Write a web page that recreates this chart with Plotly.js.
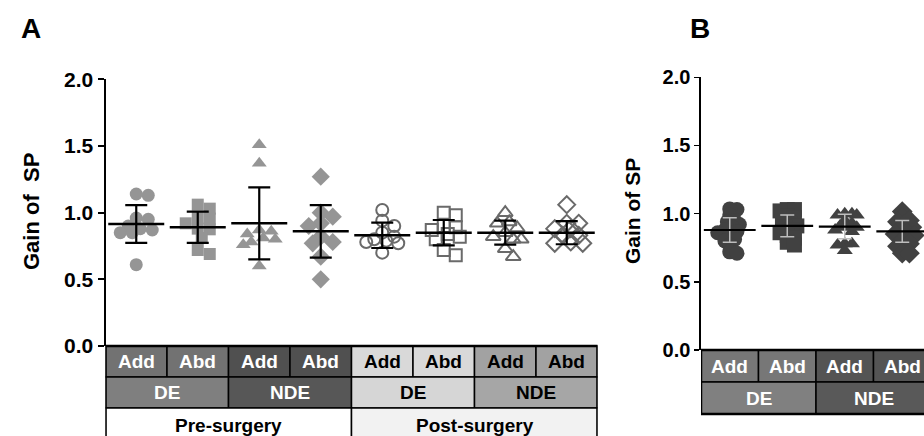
<!DOCTYPE html>
<html><head><meta charset="utf-8">
<script src="https://cdn.plot.ly/plotly-3.0.1.min.js"></script>
<style>html,body{margin:0;padding:0;background:#fff}#chart{width:924px;height:436px}</style>
</head><body><div id="chart"></div>
<script>
// ---------- Panel A data ----------
const muscleLabelsA = ['Add','Abd','Add','Abd','Add','Abd','Add','Abd'];
const sideLabelsA = ['DE','NDE','DE','NDE'];
const phaseLabelsA = ['Pre-surgery','Post-surgery'];
const preDEAdd  = [1.13,1.14,0.96,0.95,0.90,0.88,0.87,0.85,0.85,0.61];
const preDEAbd  = [1.06,1.03,0.96,0.955,0.92,0.88,0.875,0.81,0.72,0.69];
const preNDEAdd = [1.51,1.37,0.87,0.86,0.84,0.81,0.80,0.78,0.76,0.60];
const preNDEAbd = [1.27,1.00,0.97,0.92,0.90,0.82,0.78,0.77,0.67,0.50];
const postDEAdd = [1.02,0.94,0.90,0.85,0.82,0.80,0.79,0.78,0.77,0.70];
const postDEAbd = [1.00,0.98,0.90,0.89,0.87,0.84,0.82,0.80,0.72,0.68];
const postNDEAdd= [1.00,0.93,0.92,0.885,0.85,0.82,0.80,0.80,0.73,0.67];
const postNDEAbd= [1.06,0.92,0.92,0.88,0.88,0.83,0.83,0.78,0.77,0.77];
const meanA = [0.915,0.89,0.92,0.86,0.83,0.85,0.85,0.85];
const sdA   = [0.142,0.117,0.27,0.197,0.095,0.095,0.09,0.087];

// ---------- Panel B data ----------
const muscleLabelsB = ['Add','Abd','Add','Abd'];
const sideLabelsB = ['DE','NDE'];
const bDEAdd  = [1.03,1.035,0.99,0.95,0.94,0.92,0.90,0.88,0.87,0.86,0.84,0.81,0.80,0.77,0.72,0.71];
const bDEAbd  = [1.03,1.03,1.02,0.98,0.97,0.95,0.93,0.91,0.90,0.88,0.86,0.84,0.82,0.79,0.77];
const bNDEAdd = [1.00,0.99,0.99,1.00,0.95,0.93,0.91,0.90,0.90,0.88,0.87,0.78,0.78,0.77,0.73];
const bNDEAbd = [1.015,0.97,0.95,0.94,0.92,0.90,0.88,0.86,0.85,0.84,0.80,0.78,0.76,0.71,0.71];
const meanB = [0.88,0.91,0.905,0.87];
const sdB   = [0.09,0.08,0.09,0.08];

const seriesA = [preDEAdd,preDEAbd,preNDEAdd,preNDEAbd,postDEAdd,postDEAbd,postNDEAdd,postNDEAbd];
const seriesB = [bDEAdd,bDEAbd,bNDEAdd,bNDEAbd];

// ---------- geometry (pixels of the page) ----------
const W=924,H=436;
const fx=px=>px/W, fy=px=>1-px/H;
const A = {x0:105.5,x1:597.5,yTop:79.3,yBot:346};
const B = {x0:701,colW:57.5,yTop:77.3,yBot:350};
const pxXA=(A.x1-A.x0)/8, pxYA=(A.yBot-A.yTop)/2;
const pxXB=B.colW, pxYB=(B.yBot-B.yTop)/2;
const FONT='Liberation Sans, Arial, sans-serif';

function swarm(vals,pxX,pxY,minD,maxOff){
  const order=vals.map((v,i)=>i).sort((a,b)=>vals[b]-vals[a]);
  const placed=[]; const off=new Array(vals.length).fill(0);
  for(const i of order){
    const yp=vals[i]*pxY; let best=0,bestD=-1;
    for(let k=0;k<60;k++){
      const cand=k===0?0:(k%2?1:-1)*Math.ceil(k/2)*minD*0.4;
      if(Math.abs(cand)>maxOff) break;
      const d=placed.length?Math.min(...placed.map(p=>Math.hypot(p.x-cand,p.y-yp))):1e9;
      if(d>=minD){best=cand;bestD=d;break;}
      if(d>bestD){bestD=d;best=cand;}
    }
    placed.push({x:best,y:yp}); off[i]=best/pxX;
  }
  return off;
}

const traces=[];
const symA=['circle','square','triangle-up','diamond','circle-open','square-open','triangle-up-open','diamond-open'];
const sizeA=[13,12,13,14,12,12,13,13];
seriesA.forEach((vals,i)=>{
  const off=swarm(vals,pxXA,pxYA,10,17);
  const pre=i<4;
  traces.push({type:'scatter',mode:'markers',xaxis:'x',yaxis:'y',
    x:vals.map((v,j)=>i+off[j]),y:vals,cliponaxis:false,
    marker:{symbol:symA[i],size:sizeA[i],color:pre?'#959595':'#6a6a6a',
      line:{width:pre?0:2,color:'#6a6a6a'}},hoverinfo:'y'});
});
traces.push({type:'scatter',mode:'markers',xaxis:'x',yaxis:'y',
  x:meanA.map((v,i)=>i),y:meanA,cliponaxis:false,
  error_y:{type:'data',array:sdA,visible:true,color:'#000',thickness:2.2,width:11},
  marker:{symbol:'line-ew',size:40,color:'#000',line:{width:2.5,color:'#000'}}});

const symB=['circle','square','triangle-up','diamond'];
const sizeB=[15,15,14,16];
seriesB.forEach((vals,i)=>{
  const off=swarm(vals,pxXB,pxYB,6,12);
  traces.push({type:'scatter',mode:'markers',xaxis:'x2',yaxis:'y2',
    x:vals.map((v,j)=>i+off[j]),y:vals,cliponaxis:false,
    marker:{symbol:symB[i],size:sizeB[i],color:'#414141',line:{width:0}},hoverinfo:'y'});
});
traces.push({type:'scatter',mode:'markers',xaxis:'x2',yaxis:'y2',
  x:meanB.map((v,i)=>i),y:meanB,cliponaxis:false,
  error_y:{type:'data',array:sdB,visible:true,color:'#bdbdbd',thickness:1.5,width:7},
  marker:{symbol:'line-ew',size:37,color:'#000',line:{width:2.2,color:'#000'}}});

// ---------- table shapes & labels ----------
const shapes=[],ann=[];
function cell(xref,c0,c1,yTopPx,yBotPx,fill,text,tcolor,size){
  shapes.push({type:'rect',xref:xref,yref:'paper',x0:c0-0.5,x1:c1+0.5,y0:fy(yBotPx),y1:fy(yTopPx),
    fillcolor:fill,line:{color:'#000',width:1.5},layer:'below'});
  ann.push({xref:xref,yref:'paper',x:(c0+c1)/2,y:fy((yTopPx+yBotPx)/2),text:text,showarrow:false,
    font:{family:FONT,size:size,color:tcolor,weight:'bold'},xanchor:'center',yanchor:'middle'});
}
const mFillA=['#727272','#727272','#505050','#505050','#d9d9d9','#d9d9d9','#a2a2a2','#a2a2a2'];
const sFillA=['#7f7f7f','#575757','#d6d6d6','#a6a6a6'];
const pFillA=['#ffffff','#f2f2f2'];
muscleLabelsA.forEach((t,i)=>cell('x',i,i,346,377,mFillA[i],t,i<4?'#fff':'#000',19));
sideLabelsA.forEach((t,i)=>cell('x',2*i,2*i+1,377,408,sFillA[i],t,i<2?'#fff':'#000',19));
phaseLabelsA.forEach((t,i)=>cell('x',4*i,4*i+3,408,442,pFillA[i],t,'#000',19));
const mFillB=['#777777','#777777','#545454','#545454'];
const sFillB=['#808080','#595959'];
muscleLabelsB.forEach((t,i)=>cell('x2',i,i,350,382,mFillB[i],t,'#fff',19));
sideLabelsB.forEach((t,i)=>cell('x2',2*i,2*i+1,382,414,sFillB[i],t,'#fff',19));
// outer borders
shapes.push({type:'rect',xref:'x',yref:'paper',x0:-0.5,x1:7.5,y0:fy(442),y1:fy(346),line:{color:'#000',width:2.5},fillcolor:'rgba(0,0,0,0)'});
shapes.push({type:'rect',xref:'x2',yref:'paper',x0:-0.5,x1:3.5,y0:fy(414),y1:fy(350),line:{color:'#000',width:2.5},fillcolor:'rgba(0,0,0,0)'});

// titles
ann.push({xref:'paper',yref:'paper',x:fx(31),y:fy(212),text:'Gain of\u00a0 SP',textangle:-90,showarrow:false,
  font:{family:FONT,size:22,color:'#000',weight:'bold'},xanchor:'center',yanchor:'middle'});
ann.push({xref:'paper',yref:'paper',x:fx(632),y:fy(211),text:'Gain of SP',textangle:-90,showarrow:false,
  font:{family:FONT,size:21,color:'#000',weight:'bold'},xanchor:'center',yanchor:'middle'});
ann.push({xref:'paper',yref:'paper',x:fx(31),y:fy(28),text:'A',showarrow:false,
  font:{family:FONT,size:28,color:'#000',weight:'bold'},xanchor:'center',yanchor:'middle'});
ann.push({xref:'paper',yref:'paper',x:fx(700),y:fy(28),text:'B',showarrow:false,
  font:{family:FONT,size:28,color:'#000',weight:'bold'},xanchor:'center',yanchor:'middle'});

const yTicks=[0,0.5,1,1.5,2];
const yAxisBase={range:[0,2],tickvals:yTicks,ticktext:yTicks.map(v=>v.toFixed(1)),showgrid:false,zeroline:false,
  showline:true,linecolor:'#000',ticks:'outside',tickcolor:'#000',fixedrange:true};
const layout={width:W,height:H,margin:{l:0,r:0,t:0,b:0},paper_bgcolor:'#fff',plot_bgcolor:'rgba(0,0,0,0)',
  showlegend:false,
  xaxis:{domain:[fx(A.x0),fx(A.x1)],range:[-0.5,7.5],visible:false,anchor:'y',fixedrange:true},
  yaxis:Object.assign({},yAxisBase,{domain:[fy(A.yBot),fy(A.yTop)],anchor:'x',linewidth:2,ticklen:6,tickwidth:2,
    tickfont:{family:FONT,size:21,color:'#000',weight:'bold'}}),
  xaxis2:{domain:[fx(B.x0),1],range:[-0.5,-0.5+(W-B.x0)/B.colW],visible:false,anchor:'y2',fixedrange:true},
  yaxis2:Object.assign({},yAxisBase,{domain:[fy(B.yBot),fy(B.yTop)],anchor:'x2',linewidth:1.6,ticklen:5,tickwidth:1.6,
    tickfont:{family:FONT,size:20,color:'#000',weight:'bold'}}),
  shapes:shapes,annotations:ann};
Plotly.newPlot('chart',traces,layout,{staticPlot:true,displayModeBar:false});
</script></body></html>
